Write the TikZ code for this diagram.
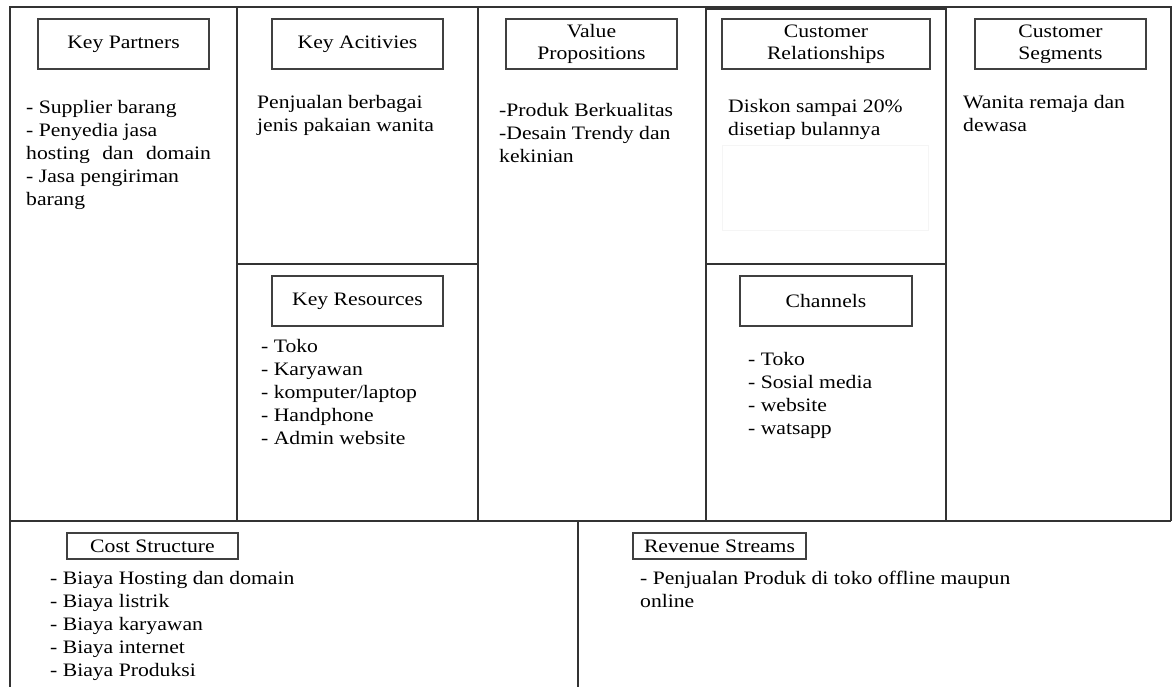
\documentclass[tikz,border=0pt]{standalone}
\usepackage{fontspec}
\setmainfont{Liberation Serif}[FakeStretch=1.14]
\begin{document}
\begin{tikzpicture}[x=1pt,y=-1pt,
  grid/.style={draw=black!80,line width=1.2pt},
  headbox/.style={draw=black!75,line width=1.3pt,minimum width=171pt,minimum height=50pt,inner sep=0pt,align=center,font=\fontsize{19}{22}\selectfont},
  smallhead/.style={headbox,minimum height=26pt},
  body/.style={anchor=north west,inner sep=0pt,align=left,font=\fontsize{19}{23}\selectfont}]
\useasboundingbox (0,0) rectangle (1172,687);
% grid
\draw[grid] (10,690) -- (10,7) -- (1171,7) -- (1171,521);
\draw[grid] (706,9) -- (946,9);
\draw[grid] (10,521) -- (1171,521);
\draw[grid] (237,7) -- (237,521);
\draw[grid] (478,7) -- (478,521);
\draw[grid] (706,7) -- (706,521);
\draw[grid] (946,7) -- (946,521);
\draw[grid] (237,264) -- (478,264);
\draw[grid] (706,264) -- (946,264);
\draw[grid] (578,521) -- (578,690);
% faint box
\draw[black!4,line width=0.8pt] (722,145) rectangle (928,230);
% headings
\node[headbox] (kp) at (123.5,44) {Key Partners};
\node[headbox] (ka) at (357.5,44) {Key Acitivies};
\node[headbox] (vp) at (591.5,44) {Value\\Propositions};
\node[headbox,minimum width=208pt] (cr) at (826,44) {Customer\\Relationships};
\node[headbox] (cs) at (1060.5,44) {Customer\\Segments};
\node[headbox] (kr) at (357.5,301) {Key Resources};
\node[headbox,minimum width=172pt] (ch) at (826,301) {Channels};
\node[smallhead] (cost) at (152.5,546) {Cost Structure};
\node[smallhead,minimum width=173pt] (rev) at (719.5,546) {Revenue Streams};
% bodies
\node[body] (kpt) at (26,100) {- Supplier barang\\- Penyedia jasa\\hosting\hspace{7pt} dan\hspace{7pt} domain\\- Jasa pengiriman\\barang};
\node[body] (kat) at (257,95) {Penjualan berbagai\\jenis pakaian wanita};
\node[body] (vpt) at (499,103) {-Produk Berkualitas\\-Desain Trendy dan\\kekinian};
\node[body] (crt) at (728,99) {Diskon sampai 20\%\\disetiap bulannya};
\node[body] (cst) at (963,95) {Wanita remaja dan\\dewasa};
\node[body] (krt) at (261,339) {- Toko\\- Karyawan\\- komputer/laptop\\- Handphone\\- Admin website};
\node[body] (cht) at (748,352) {- Toko\\- Sosial media\\- website\\- watsapp};
\node[body] (costt) at (50,571) {- Biaya Hosting dan domain\\- Biaya listrik\\- Biaya karyawan\\- Biaya internet\\- Biaya Produksi};
\node[body] (revt) at (640,571) {- Penjualan Produk di toko offline maupun\\online};
\end{tikzpicture}
\end{document}
